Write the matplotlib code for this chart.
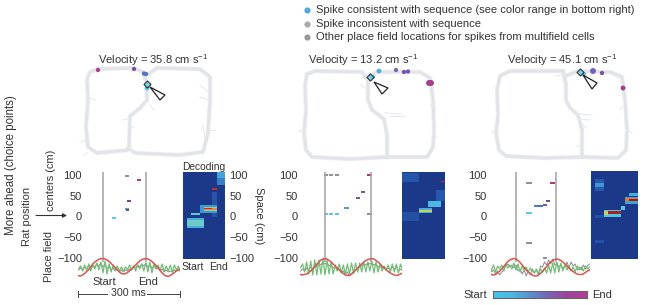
import numpy as np
import matplotlib
matplotlib.use("Agg")
import matplotlib.pyplot as plt
from matplotlib.colors import LinearSegmentedColormap
from matplotlib.patches import Polygon

plt.rcParams['font.family'] = ['Liberation Sans', 'DejaVu Sans']
plt.rcParams['mathtext.fontset'] = 'custom'
plt.rcParams['mathtext.rm'] = 'Liberation Sans'
plt.rcParams['mathtext.default'] = 'regular'

W, H = 645, 305
TXT = '#333333'
FS = 8.0

# track outlines, in picture pixels
track1 = [
    [(98, 69), (90, 72), (87, 80), (88, 100), (86, 127), (88, 147), (97, 153), (128, 150)],
    [(98, 69), (134, 68), (143, 72), (147, 84), (147, 100), (140, 108), (130, 116), (129, 147)],
    [(147, 75), (157, 68), (200, 69), (210, 77), (210, 100), (208, 133), (203, 152), (180, 155), (135, 153), (128, 148)],
]
spurs1 = [
    [(88, 97), (95, 100)], [(86, 140), (80, 142)], [(122, 120), (131, 118)], [(200, 97), (208, 100)],
    [(200, 85), (208, 92)], [(207, 130), (215, 130)], [(203, 125), (205, 140)], [(88, 152), (84, 155)],
    [(150, 105), (154, 110)], [(129, 128), (134, 127)],
]
track2 = [
    [(362, 72), (315, 71), (307, 74), (305, 85), (306, 110), (304, 133), (306, 150), (312, 157), (350, 159), (387, 157)],
    [(362, 72), (368, 80), (368, 100), (372, 110), (384, 119), (387, 135), (387, 157)],
    [(368, 76), (377, 72), (420, 72), (430, 78), (433, 100), (434, 130), (433, 147), (427, 157), (387, 157)],
]
spurs2 = [
    [(385, 113), (402, 114)], [(390, 116), (405, 116)], [(303, 130), (298, 132)], [(433, 135), (437, 138)],
    [(430, 105), (436, 108)], [(433, 120), (436, 125)], [(361, 85), (368, 90)],
]
track3 = [
    [(563, 71), (510, 71), (500, 76), (497, 90), (498, 115), (496, 133), (499, 150), (506, 156), (545, 158), (582, 157)],
    [(563, 71), (566, 85), (566, 100), (570, 108), (578, 115), (582, 130), (582, 157)],
    [(566, 76), (578, 71), (610, 72), (622, 77), (625, 100), (627, 130), (626, 150), (618, 158), (582, 157)],
]
spurs3 = [
    [(578, 114), (592, 115)], [(578, 119), (590, 120)], [(583, 125), (587, 128)], [(625, 105), (620, 109)],
    [(627, 130), (632, 133)], [(556, 76), (566, 74)], [(496, 130), (492, 133)], [(582, 145), (576, 147)],
]

# coloured place field blobs: x px, y px, size, colour
blobs1_x = [98, 134, 144, 146, 147]
blobs1_y = [70, 69, 73.5, 74, 88]
blobs1_w = [4, 4, 4, 4, 4.5]
blobs1_c = ['#a8408f', '#7f4fa0', '#5a70c0', '#5a70c0', '#5cc4e4']
blobs2_x = [379, 396, 404, 408, 429, 431, 373]
blobs2_y = [71, 70, 72, 71.5, 83, 83, 77]
blobs2_w = [4.5, 4, 4, 4, 5.5, 5.5, 4]
blobs2_c = ['#62a8dc', '#7468b4', '#7058b0', '#7058b0', '#a83c92', '#a83c92', '#5cc4e4']
blobs3_x = [593, 602, 623, 584]
blobs3_y = [71, 73, 88, 74]
blobs3_w = [5.5, 4, 4.5, 4]
blobs3_c = ['#7460b8', '#7f4fa0', '#a83c92', '#5cc4e4']

diamonds = [(147, 84), (370, 77), (580, 72)]
arrowheads = [
    [(150, 87), (165, 95), (160, 100)],
    [(374, 82), (388, 88), (382, 94)],
    [(583, 75), (597, 83), (592, 89)],
]

# raster spikes: ms from start, place field cm, colour
GR = '#8f8f8f'
spk1_t = [70, 107, 77, 71, 72, 33]
spk1_y = [97, 89, 39, 20, 17, -2]
spk1_c = [GR, '#a83c7a', '#6a3f9a', '#5aa0d8', '#4a5a90', '#5cc8e8']
spk2_t = [3, 17, 35, 3, 17, 35, 62, 66, 96, 112, 129, 133, 129, 133]
spk2_y = [100, 100, 100, 8, 8, 8, 21, 21, 45, 59, 100, 100, 8, 8]
spk2_c = [GR, GR, GR, '#62c0e8', '#62c0e8', '#62c0e8', '#5a98d0', '#5a98d0', '#6a58a8', '#7a4aa8', '#b03070', '#b03070', GR, GR]
spk3_t = [36, 40, 36, 40, 36, 40, 58, 62, 70, 75, 85, 94, 105, 109, 84]
spk3_y = [80, 80, 10, 10, -63, -63, 25, 25, 25, 25, 28, 38, 82, 82, -98]
spk3_c = [GR, GR, '#5cc8e8', '#5cc8e8', GR, GR, '#4a80c8', '#4a80c8', '#4a70c0', '#4a70c0', '#6a58a8', '#6a4a98', '#a83c7a', '#a83c7a', GR]
ends_ms = [126, 135, 118]

tick_vals = [100, 50, 0, -50, -100]
tick_text = ['100', '50', '0', '\u221250', '\u2212100']

# lfp traces, one value each 6 ms
red1 = [-7.7, -8, -7, -5.5, -3.5, -1.5, 1.5, 4, 6, 7.5, 8.7, 9.3, 9.5, 9, 8, 6.5, 4.5, 2.5, .5, -2, -4, -5.5, -6, -5.7, -4.5, -3, -1, 1, 3, 5, 7, 8.5, 9, 9.3, 9, 8, 6.5, 4.5, 2.5, 0, -2.5, -5, -7, -8, -8.3, -7.5, -6, -4.5, -3, -2, -1]
green1 = [-1, 2, -3, 3, -2, 4, -3, 3, -1, 5, -2, 6, -5, 7, -6, 4, -4, 3, -2, 2, -3, 1, -3, 1, -2, 3, -2, 2, -3, 3, -1, 4, -3, 5, -4, 6, -5, 4, 0, 3, -2, 4, -4, 2, -3, 3, -4, 3, -2, 2, -4]
gray1 = [-2, 0, -2, 1, -1, 2, 0, 3, 1, 4, 2, 5, 1, 3, 0, 1, -2, 0, -3, -1, -4, -2, -4, -2, -3, -1, -2, 1, 0, 3, 1, 4, 2, 5, 1, 3, 0, 2, -1, 0, -3, -1, -4, -2, -4, -3, -4, -2, -3, -1, -3]
red2 = [-6.5, -7, -6.5, -6, -4.5, -3, -1, 1.5, 4, 6, 8, 9, 9.3, 9, 7.5, 6, 4, 2, 0, -2, -4, -5.5, -7, -7.5, -7.2, -6, -4, -2, 0, 2, 4, 6, 7.5, 8.5, 9, 9.3, 9, 7.5, 6, 4, 2, 0, -2, -3.5, -5, -6, -7, -7.5, -7, -6, -5]
green2 = [0, 4, -4, 6, -6, 7, -7, 8, -7, 8, -6, 9, -7, 8, -6, 6, -6, 3, -3, 4, -5, 3, -6, 4, -6, 5, -5, 5, -4, 5, -4, 6, -4, 6, -3, 7, -5, 6, -4, 4, -3, 2, -2, 3, -4, 4, -4, 4, -5, 4, -2]
gray2 = [-3, -1, -3, 0, -2, 1, -1, 3, 1, 5, 3, 6, 4, 5, 2, 3, 0, 1, -2, -1, -4, -3, -6, -4, -8, -6, -5, -2, -1, 1, 2, 4, 3, 5, 4, 5, 3, 4, 1, 2, 0, 1, -1, 0, -2, 1, -1, 1, -3, -1, -3]
red3 = [-4, -5.5, -6.5, -7, -6.5, -5, -3, -1, 1.5, 4, 6.5, 8, 9, 9.5, 9, 7.5, 5.5, 3, 0.5, -2, -4, -5.5, -7, -8, -8, -7, -5.5, -3.5, -1, 1.5, 4, 6, 7.5, 8.5, 9, 8.5, 7.5, 6, 4, 2, 0, -2, -3.5, -5, -6, -6.5, -6.5, -6, -4.5, -3, -2]
green3 = [-1, 2, -2, 3, -4, 2, -1, 3, -3, 4, 0, 3, -1, 5, -2, 4, -4, 2, -2, 1, -4, 0, -3, -5, -1, -6, -1, -4, 0, -5, 3, -5, 5, -5, 6, -4, 5, -3, 4, -2, 2, -3, 1, -4, 2, -2, 1, -3, 2, -1, 1]
gray3 = [-1, 1, -4, -2, -6, -3, -7, -4, -2, 2, 4, 1, 3, 0, 3, -3, -1, -6, -2, -8, -3, -7, -1, -5, -2, -7, 2, 1, 6, 3, 8, 4, 9, 3, 5, 1, 3, -1, 2, 6, 0, 6, 2, 4, -2, 1, -2, 3, -1, 2, 4]

# decoding cells: first col, last col, low cm, high cm, level
heat1 = [
    (1, 4, -26, -2, .3), (2, 3, 6, 10, .36), (1, 4, -20, -8, .38),
    (4, 7, 10, 30, .26), (5, 7, 15, 25, .42), (5, 7, 17.5, 22.5, .7), (5, 6, 20, 22.5, .85),
    (7, 7, 0, 60, .12), (7, 7, 65, 70, .85), (8, 9, 92, 108, .28), (8, 9, 78, 92, .22),
]
heat2 = [
    (0, 3, 85, 106, .12), (0, 3, -10, 13, .1), (4, 6, 10, 22, .3), (4, 6, 12.5, 17.5, .55),
    (6, 8, 25, 37, .32), (8, 9, 37, 65, .13), (9, 9, 85, 87.5, .85),
]
heat3 = [
    (1, 2, 60, 90, .14), (1, 2, 70, 80, .26), (1, 2, -2.5, 5, .1), (1, 2, -62.5, -55, .1),
    (3, 6, 0, 15, .34), (3, 3, 5, 12.5, .55), (4, 6, 7.5, 12.5, .88), (7, 7, 15, 25, .36),
    (8, 10, 30, 47.5, .28), (8, 10, 37.5, 45, .72), (9, 10, 37.5, 42.5, .9), (9, 10, 50, 55, .3),
]
heat_edges = [(183, 225, 172), (402, 445, 172), (591, 638, 171)]

bar_colors = ['#48c4ea', '#4cb8e6', '#5a8fd0', '#7a62b4', '#a0429f', '#b83c94']
heat_colors = ['#1c3889', '#2a62b8', '#4fc3e8', '#c4e070', '#f0a030', '#d83030', '#301010']


def px_ax(x0, y0, x1, y1):
    ax = fig.add_axes([x0 / W, 1 - y1 / H, (x1 - x0) / W, (y1 - y0) / H])
    ax.patch.set_alpha(0)
    return ax


def draw_track(ax, segs, spurs):
    for s in segs:
        ax.plot(*zip(*s), color='#eff0f2', lw=3.2, solid_capstyle='round', solid_joinstyle='round')
    for s in segs:
        ax.plot(*zip(*s), color='#e2e4e8', lw=2.1, solid_capstyle='round', solid_joinstyle='round')
    for s in spurs:
        ax.plot(*zip(*s), color='#e8e9ec', lw=.8)


def raster(x_start, tt, yy, cc, t_end):
    scale = 0.34
    left = x_start - 74 * scale
    ax = px_ax(left, 172, left + 300 * scale, 259)
    ax.set_xlim(-74, 226)
    ax.set_ylim(-100, 107)
    ax.axis('off')
    ax.vlines([0, t_end], -106, 107, color='#a9a9a9', lw=1.2, clip_on=False)
    ax.scatter(tt, yy, c=cc, marker='_', s=8, linewidths=1.4, clip_on=False)
    return ax


def waves(x_start, t0, red, green, gray):
    scale = 0.34
    left = x_start - 74 * scale
    ax = px_ax(left, 250, left + 300 * scale, 286)
    ax.set_xlim(-74, 226)
    ax.set_ylim(-18, 18)
    ax.axis('off')
    tt = np.arange(len(red)) * 6 + t0
    ax.plot(tt, gray, color='#8c8c8c', lw=.7)
    ax.plot(tt, green, color='#72bd78', lw=.9)
    ax.plot(tt, red, color='#d9574e', lw=1.1)


def heatmap(box, cells):
    x0, x1, top = box
    ax = px_ax(x0, top, x1, 259)
    grid = np.zeros((84, 11 if x1 - x0 > 45 else 10))
    for c0, c1, lo, hi, v in cells:
        r0 = int(round((lo + 100) / 2.5))
        r1 = int(round((hi + 100) / 2.5))
        grid[r0:r1, c0:c1 + 1] = np.maximum(grid[r0:r1, c0:c1 + 1], v)
    ax.imshow(grid, origin='lower', aspect='auto', extent=(0, grid.shape[1], -100, 110),
              cmap=LinearSegmentedColormap.from_list('dec', heat_colors), vmin=0, vmax=1,
              interpolation='nearest')
    ax.set_ylim(-100, 108)
    ax.axis('off')


fig = plt.figure(figsize=(W / 100, H / 100), dpi=100)
bg = px_ax(0, 0, W, H)
bg.set_xlim(0, W)
bg.set_ylim(H, 0)
bg.axis('off')

draw_track(bg, track1, spurs1)
draw_track(bg, track2, spurs2)
draw_track(bg, track3, spurs3)

for xs, ys, ws, cs in [(blobs1_x, blobs1_y, blobs1_w, blobs1_c), (blobs2_x, blobs2_y, blobs2_w, blobs2_c),
                       (blobs3_x, blobs3_y, blobs3_w, blobs3_c)]:
    bg.scatter(xs, ys, s=np.array(ws) ** 2 * .6, c=cs, linewidths=0, zorder=3)

for d, a in zip(diamonds, arrowheads):
    bg.scatter(*d, marker='D', s=13, facecolor='#7fcfe6', edgecolor='#222222', linewidths=.7, zorder=4)
    bg.add_patch(Polygon(a, closed=True, fill=False, edgecolor='#222222', lw=.9, zorder=4))

# legend text at top
for y, c, s in [(10, '#55a7dd', 'Spike consistent with sequence (see color range in bottom right)'),
                (24, '#a9a9a9', 'Spike inconsistent with sequence'),
                (37, '#9a9a9a', 'Other place field locations for spikes from multifield cells')]:
    bg.scatter(307, y, s=20, c=c, linewidths=0)
    bg.text(316, y, s, fontsize=FS, color=TXT, va='center', ha='left')

bg.text(153, 60, 'Velocity = 35.8 cm s$^{-1}$', fontsize=FS, color=TXT, ha='center', va='center')
bg.text(363, 60, 'Velocity = 13.2 cm s$^{-1}$', fontsize=FS, color=TXT, ha='center', va='center')
bg.text(562, 60, 'Velocity = 45.1 cm s$^{-1}$', fontsize=FS, color=TXT, ha='center', va='center')

raster(103, spk1_t, spk1_y, spk1_c, ends_ms[0])
raster(325, spk2_t, spk2_y, spk2_c, ends_ms[1])
raster(516, spk3_t, spk3_y, spk3_c, ends_ms[2])
waves(103, -72, red1, green1, gray1)
waves(325, -72, red2, green2, gray2)
waves(516, -84, red3, green3, gray3)

heatmap(heat_edges[0], heat1)
heatmap(heat_edges[1], heat2)
heatmap(heat_edges[2], heat3)

# y tick labels written in picture pixels from the cm scale
for right in [82, 298, 487]:
    for v, s in zip(tick_vals, tick_text):
        bg.text(right, 217.4 - v * .417, s, fontsize=FS, color=TXT, ha='right', va='center')
for v, s in zip(tick_vals, tick_text):
    bg.text(229.5, 217.4 - v * .417, s, fontsize=FS, color=TXT, ha='left', va='center')

bg.text(204, 167, 'Decoding', fontsize=FS - .6, color=TXT, ha='center', va='center')
bg.text(192.5, 267, 'Start', fontsize=FS - .4, color=TXT, ha='center', va='center')
bg.text(218, 267, 'End', fontsize=FS - .4, color=TXT, ha='center', va='center')
bg.text(104, 282, 'Start', fontsize=FS, color=TXT, ha='center', va='center')
bg.text(148, 282, 'End', fontsize=FS, color=TXT, ha='center', va='center')
bg.text(128.5, 293.5, '300 ms', fontsize=FS - .3, color=TXT, ha='center', va='center')
bg.plot([78, 107], [294, 294], color='#444444', lw=.7)
bg.plot([147, 180], [294, 294], color='#444444', lw=.7)
bg.plot([78, 78], [291, 297], color='#444444', lw=.7)
bg.plot([180, 180], [291, 297], color='#444444', lw=.7)

bg.text(11, 165, 'More ahead (choice points)', fontsize=FS + .3, color=TXT, rotation=90, ha='center', va='center')
bg.text(27, 216, 'Rat position', fontsize=FS, color=TXT, rotation=90, ha='center', va='center')
bg.text(49, 256, 'Place field', fontsize=FS - .1, color=TXT, rotation=90, ha='center', va='center')
bg.text(51, 180, 'centers (cm)', fontsize=FS - .1, color=TXT, rotation=90, ha='center', va='center')
bg.text(259, 216, 'Space (cm)', fontsize=FS, color=TXT, rotation=270, ha='center', va='center')
bg.annotate('', xy=(67, 215.5), xytext=(36, 215.5),
            arrowprops=dict(arrowstyle='-|>', color='#333333', lw=.8, mutation_scale=6, shrinkA=0, shrinkB=0))

# colour range, bottom right
cb = px_ax(493, 291, 587, 298)
cb.imshow(np.linspace(0, 1, 128)[None, :], aspect='auto',
          cmap=LinearSegmentedColormap.from_list('seq', bar_colors))
cb.set_xticks([])
cb.set_yticks([])
for sp in cb.spines.values():
    sp.set_color('#666666')
    sp.set_linewidth(.8)
bg.text(463, 294.5, 'Start', fontsize=FS, color=TXT, ha='left', va='center')
bg.text(592, 294.5, 'End', fontsize=FS, color=TXT, ha='left', va='center')

fig.savefig('out.png', dpi=100)
